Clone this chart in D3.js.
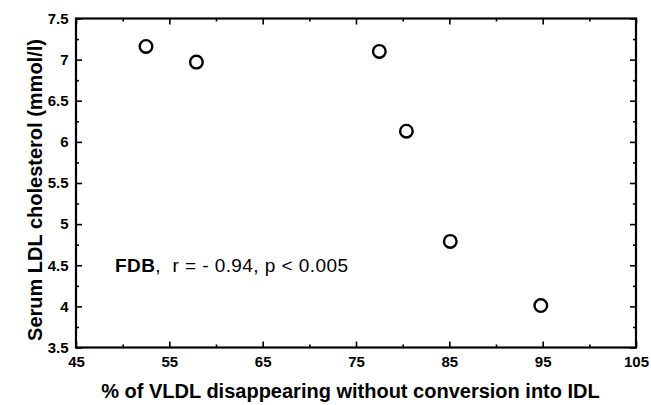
<!DOCTYPE html>
<meta charset="utf-8">
<style>
body { margin: 0; background: #fff; }
svg { font-family: "Liberation Sans", Arial, sans-serif; }
.axis path { display: none; }
.axis line { stroke: #000; stroke-width: 1.6px; }
.axis text { font-size: 15px; font-weight: bold; fill: #000; }
</style>
<body>
<div id="chart"></div>
<script src="https://cdn.jsdelivr.net/npm/d3@7"></script>
<script>

// data
var vldlPct = [52.5, 57.9, 77.5, 80.4, 85.1, 94.8];
var ldlChol = [7.16, 6.97, 7.10, 6.13, 4.79, 4.01];
var xTicks = [45, 55, 65, 75, 85, 95, 105];
var yTicks = [3.5, 4, 4.5, 5, 5.5, 6, 6.5, 7, 7.5];

var margin = {top: 18.5, right: 15, bottom: 57.5, left: 76},
    width = 651 - margin.left - margin.right,
    height = 405 - margin.top - margin.bottom;

var svg = d3.select("#chart").append("svg")
    .attr("width", 651)
    .attr("height", 405)
  .append("g")
    .attr("transform", "translate(" + margin.left + "," + margin.top + ")");

var x = d3.scaleLinear().domain([45, 105]).range([0, width]);
var y = d3.scaleLinear().domain([3.5, 7.5]).range([height, 0]);

// minor ticks halfway between the labelled ones
var xMinor = d3.range(50, 105, 10);
var yMinor = d3.range(3.75, 7.5, 0.5);

function drawAxis(axisFn, scale, major, minor, transform, labels) {
  var g = svg.append("g").attr("class", "axis").attr("transform", transform);
  g.call(axisFn(scale).tickValues(major).tickSizeInner(-6).tickSizeOuter(0)
      .tickPadding(labels ? 9 : 0)
      .tickFormat(labels ? d3.format("") : ""));
  svg.append("g").attr("class", "axis").attr("transform", transform)
    .call(axisFn(scale).tickValues(minor).tickSizeInner(-3).tickSizeOuter(0).tickFormat(""));
  return g;
}

drawAxis(d3.axisBottom, x, xTicks, xMinor, "translate(0," + height + ")", true);
drawAxis(d3.axisTop, x, xTicks, xMinor, "translate(0,0)", false);
var yl = drawAxis(d3.axisLeft, y, yTicks, yMinor, "translate(0,0)", true);
yl.selectAll("text").attr("x", -7.5);
drawAxis(d3.axisRight, y, yTicks, yMinor, "translate(" + width + ",0)", false);

// frame
svg.append("rect")
    .attr("x", 0).attr("y", 0)
    .attr("width", width).attr("height", height)
    .attr("fill", "none")
    .attr("stroke", "#000")
    .attr("stroke-width", 2.2);

// points
svg.selectAll("circle.pt")
    .data(vldlPct)
  .enter().append("circle")
    .attr("class", "pt")
    .attr("cx", function(d) { return x(d); })
    .attr("cy", function(d, i) { return y(ldlChol[i]); })
    .attr("r", 6.3)
    .attr("fill", "#fff")
    .attr("stroke", "#000")
    .attr("stroke-width", 2.4);

// annotation
var note = svg.append("text")
    .attr("x", 115 - margin.left)
    .attr("y", 272 - margin.top)
    .attr("textLength", 233)
    .style("font-size", "19px")
    .style("white-space", "pre");
note.append("tspan").style("font-weight", "bold").text("FDB");
note.append("tspan").text(",  r = - 0.94, p < 0.005");

// axis titles
svg.append("text")
    .attr("x", 350.5 - margin.left)
    .attr("y", 398 - margin.top)
    .attr("text-anchor", "middle")
    .style("font-size", "20px")
    .style("font-weight", "bold")
    .text("% of VLDL disappearing without conversion into IDL");

svg.append("text")
    .attr("transform", "translate(" + (42 - margin.left) + "," + (190 - margin.top) + ") rotate(-90)")
    .attr("text-anchor", "middle")
    .style("font-size", "20px")
    .style("font-weight", "bold")
    .text("Serum LDL cholesterol (mmol/l)");

</script>
</body>
